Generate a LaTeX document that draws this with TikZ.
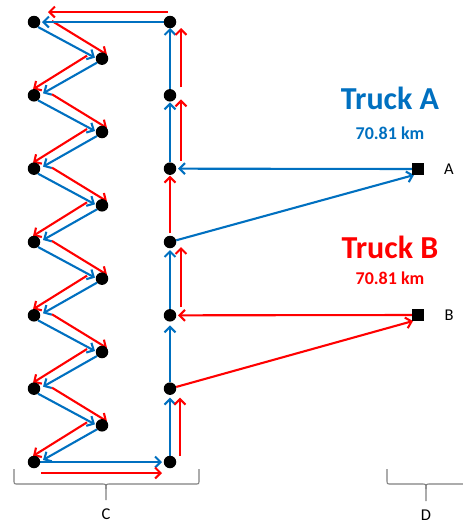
\documentclass[tikz,border=0pt]{standalone}
\usepackage{fontspec}
\setmainfont{Carlito}
\usetikzlibrary{calc,arrows.meta}
\pgfdeclarelayer{bg}
\pgfsetlayers{bg,main}
\definecolor{tblue}{HTML}{0070C0}
\definecolor{tred}{HTML}{FF0000}
\definecolor{brgray}{HTML}{808080}
\begin{document}
\begin{tikzpicture}[x=1pt,y=-1pt,
  dot/.style={circle,fill=black,inner sep=0pt,minimum size=12.5pt},
  depot/.style={rectangle,fill=black,inner sep=0pt,minimum size=12pt},
  route/.style={line width=2.1pt,-{Straight Barb[length=5.5pt,width=11pt]}},
  rb/.style={route,draw=tblue},
  rr/.style={route,draw=tred},
  brace/.style={draw=brgray,line width=1.1pt},
  lbl/.style={font=\fontsize{16.5}{20}\selectfont},
  title/.style={anchor=base,font=\bfseries\fontsize{32}{36}\selectfont},
  dist/.style={anchor=base,font=\bfseries\fontsize{18}{22}\selectfont},
]
\useasboundingbox (0,0) rectangle (463,525);
% stops
\foreach \i/\y in {1/22,2/95.33,3/168.67,4/242,5/315.33,6/388.67,7/462} {
  \node[dot] (L\i) at (34,\y) {};
  \node[dot] (C\i) at (170,\y) {};
}
\foreach \i/\y in {1/58.67,2/132,3/205.33,4/278.67,5/352,6/425.33} {
  \node[dot] (Z\i) at (102,\y) {};
}
\node[depot] (A) at (418,169) {};
\node[depot] (B) at (418,315) {};
% labels
\node[lbl] (la) at (449,169) {A};
\node[lbl] (lb) at (449,315) {B};
\node[lbl] (lc) at (106,514) {C};
\node[lbl] (ld) at (426,515) {D};
\node[title,text=tblue] (ta) at (390,109) {Truck A};
\node[dist,text=tblue] (da) at (390,139) {70.81 km};
\node[title,text=tred] (tb) at (390,258) {Truck B};
\node[dist,text=tred] (db) at (390,284) {70.81 km};
% routes
\begin{pgfonlayer}{bg}
\foreach \i [evaluate=\i as \j using int(\i+1)] in {1,...,6} {
  \draw[rb] ($(L\i)+(4,5)$) -- ($(Z\i)+(-7,-1)$);
  \draw[rr] ($(L\i)+(18,-1)$) -- ($(Z\i)+(5,-4)$);
  \draw[rb] ($(Z\i)+(-5,4)$) -- ($(L\j)+(9,-2)$);
  \draw[rr] ($(Z\i)+(-15,-3)$) -- ($(L\j)+(-1,-6)$);
}
\draw[rb] (C1) -- ($(L1)+(8,0)$);
\draw[rr] ($(C1)+(-2,-10)$) -- ($(L1)+(14,-10)$);
\draw[rb] (L7) -- ($(C7)+(-8,0)$);
\draw[rr] ($(L7)+(7,11)$) -- ($(C7)+(-8,11)$);
\draw[rb] (C7) -- ($(C6)+(0,9)$);
\draw[rr] ($(C7)+(10,-6)$) -- ($(C6)+(10,9)$);
\draw[rb] (C6) -- ($(C5)+(0,10)$);
\draw[rb] (C5) -- ($(C4)+(0,8)$);
\draw[rr] ($(C5)+(11,-8)$) -- ($(C4)+(11,5)$);
\draw[rr] ($(C4)+(0,-9)$) -- ($(C3)+(0,7)$);
\draw[rb] (C3) -- ($(C2)+(0,7)$);
\draw[rr] ($(C3)+(11,-8)$) -- ($(C2)+(11,4)$);
\draw[rb] (C2) -- ($(C1)+(0,6)$);
\draw[rr] ($(C2)+(11,-8)$) -- ($(C1)+(11,6)$);
\draw[rb] (A) -- ($(C3)+(8,0)$);
\draw[rb] (C4) -- ($(A)+(-4,6)$);
\draw[rr] (B) -- ($(C5)+(8,0)$);
\draw[rr] (C6) -- ($(B)+(-5,6)$);
\end{pgfonlayer}
% braces
\draw[brace] (14,469) -- (14,480) .. controls (14,484) .. (18,484) -- (102,484)
  .. controls (106,484) .. (106,489) -- (106,500);
\draw[brace] (106,489) .. controls (106,484) .. (110,484) -- (195,484)
  .. controls (199,484) .. (199,480) -- (199,469);
\draw[brace] (387,469) -- (387,480) .. controls (387,484) .. (391,484) -- (422,484)
  .. controls (426,484) .. (426,489) -- (426,501);
\draw[brace] (426,489) .. controls (426,484) .. (430,484) -- (475,484);
\end{tikzpicture}
\end{document}
